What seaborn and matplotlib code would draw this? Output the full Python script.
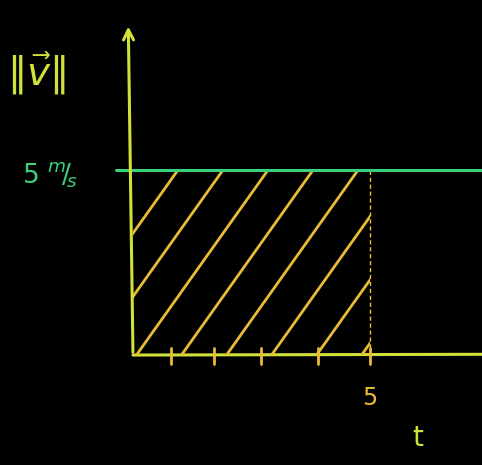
import numpy as np
import pandas as pd
import matplotlib
matplotlib.use("Agg")
import matplotlib.pyplot as plt
import seaborn as sns
from matplotlib.patches import Rectangle

# ---- data ----
line_t = [-0.35, 7.4]          # extent of the constant-speed line
line_speed = [5.0, 5.0]        # ||v|| = 5 m/s
t_end = 5.0                    # shaded interval [0, 5]
speed = 5.0
tick_positions = [0.8, 1.7, 2.7, 3.9, 5.0]
x_label_ticks = ["5"]
y_label_ticks = [r"5 $^{m}\!/\!_{s}$"]

sns.set_theme(style="dark")
plt.rcParams["font.family"] = ["DejaVu Sans"]

YEL = "#d2e03a"
ORG = "#e8bd35"
GRN = "#3ad07c"

fig = plt.figure(figsize=(4.82, 4.65), dpi=100, facecolor="black")
ax = fig.add_axes([0, 0, 1, 1])
ax.set_facecolor("black")
ax.set_xlim(-2.806, 7.363)
ax.set_ylim(-2.97, 9.59)
ax.axis("off")

# axes (hand-drawn style)
ax.annotate("", xy=(-0.1, 8.95), xytext=(0, 0),
            arrowprops=dict(arrowstyle="->,head_width=0.3,head_length=0.6",
                            color=YEL, lw=2.2))
ax.plot([0, 7.4], [0, 0.02], color=YEL, lw=2.2, solid_capstyle="round")

# tick marks
for tp in tick_positions:
    ax.plot([tp, tp], [-0.25, 0.2], color=ORG, lw=2)

# shaded area
rect = Rectangle((0, 0), t_end, speed, facecolor="none", edgecolor="none")
ax.add_patch(rect)
slope = 1.8
spacing = 0.95
offsets = np.arange(-speed / slope, t_end + 0.1, spacing)
for off in offsets:
    xs = np.array([off, off + speed / slope])
    ys = slope * (xs - off)
    ln, = ax.plot(xs, ys, color=ORG, lw=2, solid_capstyle="round")
    ln.set_clip_path(rect)
ax.plot([t_end, t_end], [0, speed], color=ORG, lw=1, ls=(0, (3, 2)))

# constant speed line
df = pd.DataFrame({"t": line_t, "v": line_speed})
sns.lineplot(data=df, x="t", y="v", ax=ax, color=GRN, lw=2.2)

# labels
ax.text(-2.65, 7.6, r"$\|\vec{v}\|$", color=YEL, fontsize=28, va="center", ha="left")
ax.text(-2.35, 4.85, y_label_ticks[0], color=GRN, fontsize=19, va="center", ha="left")
ax.text(t_end, -1.15, x_label_ticks[0], color=ORG, fontsize=17, va="center", ha="center")
ax.text(6.0, -2.25, "t", color=YEL, fontsize=20, va="center", ha="center")

fig.savefig("out.png", dpi=100, facecolor="black")
